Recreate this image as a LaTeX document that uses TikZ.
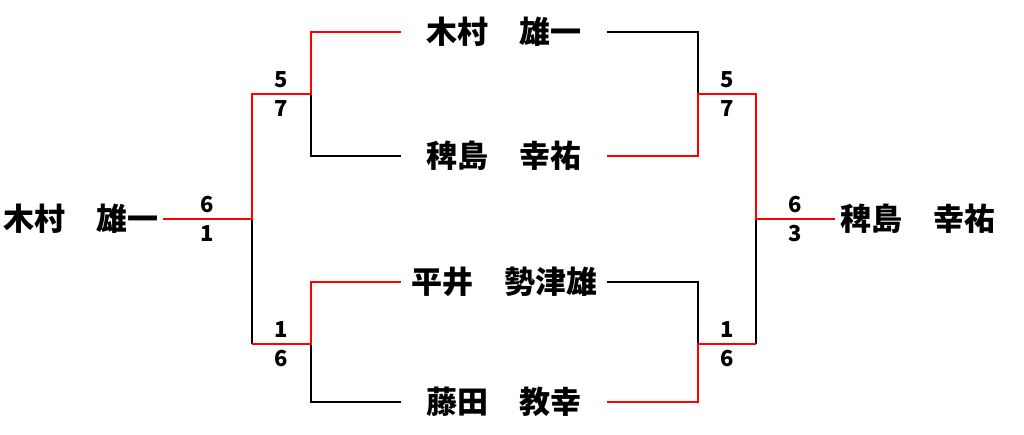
\documentclass[tikz,border=0pt]{standalone}
\usepackage{fontspec}
\newfontfamily\jp{Noto Sans CJK JP}
\begin{document}
\begin{tikzpicture}[x=1pt,y=-1pt]

\tikzstyle{nm} = [font=\jp\bfseries\fontsize{31}{31}\selectfont, inner sep=0pt]
\tikzstyle{md} = [nm, minimum width=206pt]
\tikzstyle{sc} = [font=\jp\bfseries\fontsize{22}{22}\selectfont, inner sep=6pt]
\tikzstyle{win} = [draw=red, line width=2.6pt]
\tikzstyle{lose} = [draw=black, line width=2.6pt]

\useasboundingbox (0,0) rectangle (1024,434);

% players
\node[md] (a) at (504,32) {木村　雄一};
\node[md] (b) at (504,156) {稗島　幸祐};
\node[md] (c) at (504,282) {平井　勢津雄};
\node[md] (d) at (504,402) {藤田　教幸};
\node[nm, anchor=east, inner xsep=4pt] (L) at (163,219) {木村　雄一};
\node[nm, anchor=west, inner xsep=5pt] (R) at (835,219) {稗島　幸祐};

% junctions
\coordinate (p1) at (311,94);
\coordinate (p2) at (311,344);
\coordinate (q1) at (252,94);
\coordinate (q) at (252,219);
\coordinate (q2) at (252,344);
\coordinate (r1) at (698,94);
\coordinate (r2) at (698,344);
\coordinate (s1) at (756,94);
\coordinate (s) at (756,219);
\coordinate (s2) at (756,344);

% left
\draw[lose] (b.west) -| (p1);
\draw[lose] (d.west) -| (p2);
\draw[lose] (q2) -- (q);
\draw[win] (a.west) -| (p1) -- (q1) -- (q) -- (L.east);
\draw[win] (c.west) -| (p2) -- (q2);

% right
\draw[lose] (a.east) -| (r1);
\draw[lose] (c.east) -| (r2);
\draw[lose] (s2) -- (s);
\draw[win] (b.east) -| (r1) -- (s1) -- (s) -- (R.west);
\draw[win] (d.east) -| (r2) -- (s2);

% scores
\path (q1) -- node[sc, above]{5} node[sc, below]{7} (p1);
\path (q2) -- node[sc, above]{1} node[sc, below]{6} (p2);
\path (L.east) -- node[sc, above]{6} node[sc, below]{1} (q);
\path (r1) -- node[sc, above]{5} node[sc, below]{7} (s1);
\path (r2) -- node[sc, above]{1} node[sc, below]{6} (s2);
\path (s) -- node[sc, above]{6} node[sc, below]{3} (R.west);

\end{tikzpicture}
\end{document}
